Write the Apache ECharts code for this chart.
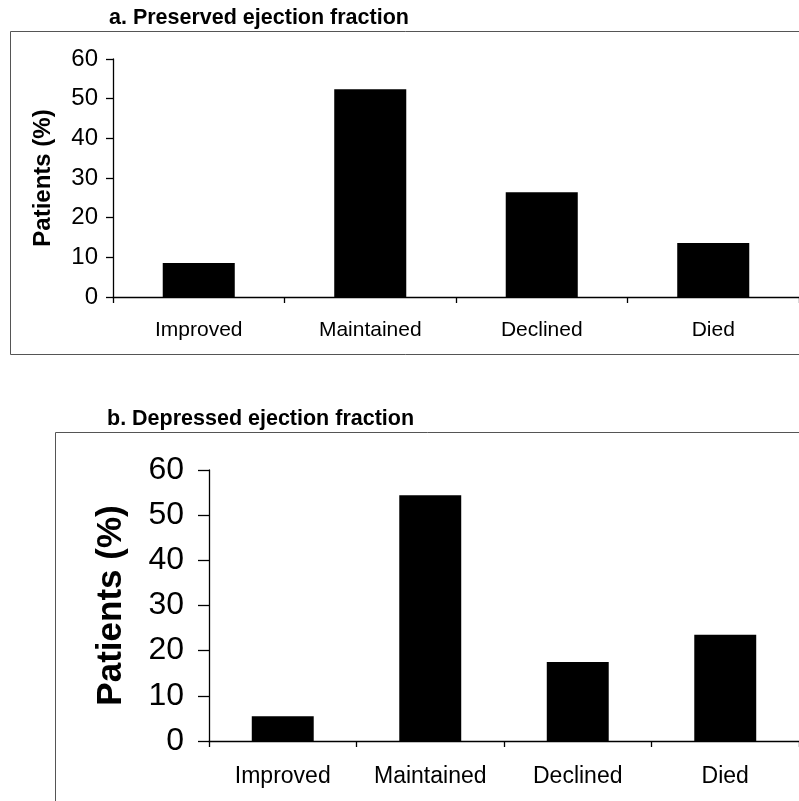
<!DOCTYPE html>
<html>
<head>
<meta charset="utf-8">
<title>Ejection fraction outcome</title>
<script src="https://cdn.jsdelivr.net/npm/echarts@6/dist/echarts.min.js"></script>
<style>
    html, body { margin: 0; padding: 0; background: #fff; }
    #chart { width: 799px; height: 801px; }
</style>
</head>
<body>
<div id="chart"></div>
<script>
// data
var categories = ['Improved', 'Maintained', 'Declined', 'Died'];
var preservedEF = [8.6, 52.4, 26.4, 13.6];
var depressedEF = [5.5, 54.4, 17.5, 23.5];
var yTicks = [0, 10, 20, 30, 40, 50, 60];
var panelTitles = ['a. Preserved ejection fraction', 'b. Depressed ejection fraction'];
var yName = 'Patients (%)';

var font = '"Liberation Sans", Arial, Helvetica, sans-serif';

function yAxis(gridIndex, labelSize, nameSize, gap, margin, tickLen) {
    return {
        type: 'value',
        gridIndex: gridIndex,
        min: yTicks[0],
        max: yTicks[yTicks.length - 1],
        interval: yTicks[1] - yTicks[0],
        name: yName,
        nameLocation: 'middle',
        nameGap: gap,
        nameTextStyle: { color: '#000', fontSize: nameSize, fontWeight: 'bold', fontFamily: font },
        axisLine: { show: true, lineStyle: { color: '#000', width: 1.3 } },
        axisTick: { show: true, inside: false, length: tickLen, lineStyle: { color: '#000', width: 1.3 } },
        axisLabel: { color: '#000', fontSize: labelSize, fontFamily: font, margin: margin },
        splitLine: { show: false }
    };
}

function xAxis(gridIndex, labelSize, margin) {
    return {
        type: 'category',
        gridIndex: gridIndex,
        data: categories,
        axisLine: { show: true, lineStyle: { color: '#000', width: 1.3 } },
        axisTick: { show: true, length: 6, lineStyle: { color: '#000', width: 1.3 } },
        axisLabel: { color: '#000', fontSize: labelSize, fontFamily: font, margin: margin, interval: 0 },
        splitLine: { show: false }
    };
}

var myChart = echarts.init(document.getElementById('chart'), null, { renderer: 'canvas' });

var option = {
    backgroundColor: '#fff',
    animation: false,
    title: [{
        text: panelTitles[0],
        left: 104,
        top: 2,
        textStyle: { color: '#000', fontSize: 21.5, fontWeight: 'bold', fontFamily: font }
    }, {
        text: panelTitles[1],
        left: 102,
        top: 403,
        textStyle: { color: '#000', fontSize: 21.5, fontWeight: 'bold', fontFamily: font }
    }],
    // frame boxes round each panel (right side runs off the page)
    graphic: [{
        type: 'rect',
        shape: { x: 10.5, y: 31.5, width: 800, height: 323 },
        style: { fill: 'none', stroke: '#555', lineWidth: 1 },
        silent: true
    }, {
        type: 'rect',
        shape: { x: 55.5, y: 432.5, width: 800, height: 400 },
        style: { fill: 'none', stroke: '#555', lineWidth: 1 },
        silent: true
    }],
    grid: [{
        left: 113,
        top: 59,
        width: 691,
        height: 238,
        containLabel: false
    }, {
        left: 209,
        top: 470,
        width: 592,
        height: 271,
        containLabel: false
    }],
    xAxis: [xAxis(0, 21, 23), xAxis(1, 23, 24)],
    yAxis: [yAxis(0, 24, 24, 58, 15, 7), yAxis(1, 32, 35, 80, 25, 11)],
    series: [{
        name: panelTitles[0],
        type: 'bar',
        xAxisIndex: 0,
        yAxisIndex: 0,
        data: preservedEF,
        barWidth: '42%',
        itemStyle: { color: '#000' }
    }, {
        name: panelTitles[1],
        type: 'bar',
        xAxisIndex: 1,
        yAxisIndex: 1,
        data: depressedEF,
        barWidth: '42%',
        itemStyle: { color: '#000' }
    }]
};

myChart.setOption(option);
</script>
</body>
</html>
